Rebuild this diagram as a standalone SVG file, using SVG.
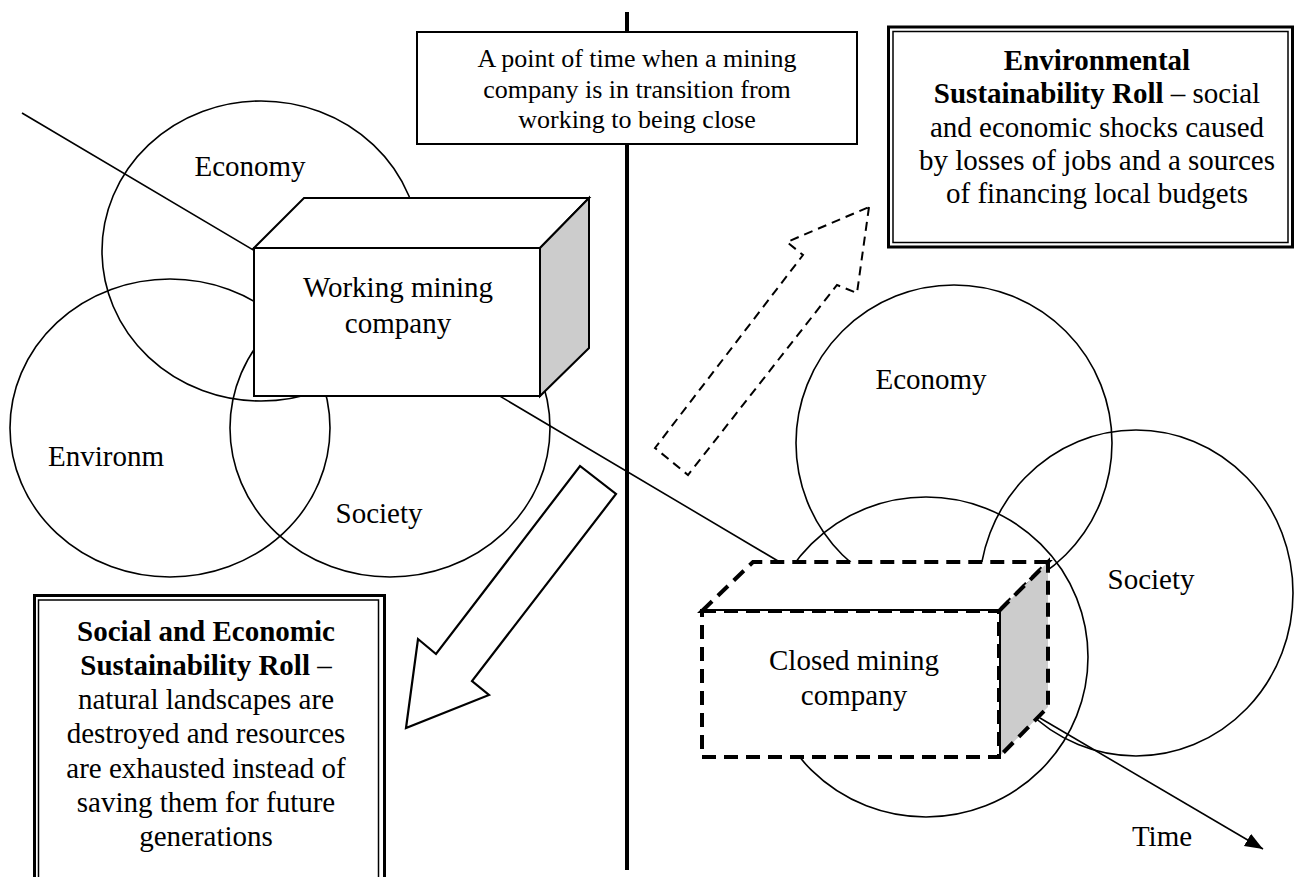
<svg xmlns="http://www.w3.org/2000/svg" width="1296" height="877" viewBox="0 0 1296 877">
  <defs>
    <style>
      .ring { fill: none; stroke: #000; stroke-width: 1.6; }
      .lbl { font-family: "Liberation Serif", "Times New Roman", serif; font-size: 29px; fill: #000; text-anchor: middle; }
      .small { font-size: 26px; }
      .b { font-weight: bold; }
      .face { fill: #fff; stroke: #000; stroke-width: 2; stroke-linejoin: miter; }
      .side { fill: #cccccc; stroke: #000; stroke-width: 2; }
      .dface { fill: #fff; stroke: #000; stroke-width: 4; stroke-dasharray: 14 8; }
      .dside { fill: #cccccc; stroke: #000; stroke-width: 4; stroke-dasharray: 14 8; }
      .thin { fill: none; stroke: #000; stroke-width: 1.6; }
    </style>
    <marker id="head" markerUnits="userSpaceOnUse" markerWidth="20" markerHeight="16" refX="18" refY="7" orient="auto">
      <path d="M0,0 L18,7 L0,14 Z" fill="#000"/>
    </marker>
  </defs>
  <rect width="1296" height="877" fill="#fff"/>

  <!-- three spheres around the working company -->
  <g id="left-spheres">
    <ellipse class="ring" cx="261" cy="251" rx="159" ry="150"/>
    <ellipse class="ring" cx="170" cy="428" rx="160" ry="149"/>
    <ellipse class="ring" cx="390" cy="428" rx="160" ry="149"/>
    <text class="lbl" x="250" y="176">Economy</text>
    <text class="lbl" x="106" y="466">Environm</text>
    <text class="lbl" x="379" y="523">Society</text>
  </g>

  <!-- three spheres around the closed company -->
  <g id="right-spheres">
    <circle class="ring" cx="954" cy="443" r="158"/>
    <ellipse class="ring" cx="1136" cy="593" rx="157" ry="163"/>
    <ellipse class="ring" cx="926" cy="657" rx="162" ry="160"/>
    <text class="lbl" x="931" y="389">Economy</text>
    <text class="lbl" x="1151" y="589">Society</text>
  </g>

  <g id="connectors">
    <!-- transition line between the two states -->
    <line class="thin" x1="22" y1="113" x2="778" y2="561"/>
    <!-- time boundary -->
    <line x1="627" y1="12" x2="627" y2="870" stroke="#000" stroke-width="4"/>
    <!-- time axis -->
    <line class="thin" x1="1040" y1="718" x2="1263" y2="849" marker-end="url(#head)"/>
    <!-- block arrow down to the social/economic roll -->
    <polygon points="406,728 418,639 436,654 580,466 616,494 472,681 489,695" fill="#fff" stroke="#000" stroke-width="2.2" stroke-linejoin="miter"/>
    <!-- dashed block arrow up to the environmental roll -->
    <polygon points="869,207 857,293 837,285 688,475 655,448 803,255 787,242" fill="none" stroke="#000" stroke-width="2" stroke-dasharray="9 6"/>
  </g>

  <g id="working-company">
    <polygon class="face" points="254,248 304,198 589,198 540,248"/>
    <polygon class="side" points="540,248 589,198 589,348 540,396"/>
    <rect class="face" x="254" y="248" width="286" height="148"/>
    <text class="lbl" x="398" y="297">Working mining</text>
    <text class="lbl" x="398" y="333">company</text>
  </g>

  <g id="closed-company">
    <polygon class="dface" points="702,611 753,562 1048,562 999,611"/>
    <polygon class="dside" points="999,611 1048,562 1048,707 999,757"/>
    <rect class="dface" x="702" y="611" width="297" height="146"/>
    <text class="lbl" x="854" y="670">Closed mining</text>
    <text class="lbl" x="854" y="705">company</text>
  </g>

  <g id="transition-note">
    <rect x="417" y="32" width="440" height="112" fill="#fff" stroke="#000" stroke-width="2"/>
    <text class="lbl small" x="637" y="67">A point of time when a mining</text>
    <text class="lbl small" x="637" y="97.5">company is in transition from</text>
    <text class="lbl small" x="637" y="128">working to being close</text>
  </g>

  <g id="environmental-roll">
    <rect x="888.5" y="27" width="404" height="220" fill="#fff" stroke="#000" stroke-width="3"/>
    <rect x="893" y="31.5" width="395" height="211" fill="none" stroke="#000" stroke-width="1.5"/>
    <text class="lbl" x="1097" y="70"><tspan class="b">Environmental</tspan></text>
    <text class="lbl" x="1097" y="103"><tspan class="b">Sustainability Roll</tspan> – social</text>
    <text class="lbl" x="1097" y="136.5">and economic shocks caused</text>
    <text class="lbl" x="1097" y="170">by losses of jobs and a sources</text>
    <text class="lbl" x="1097" y="203">of financing local budgets</text>
  </g>

  <g id="social-economic-roll">
    <rect x="34.5" y="595.5" width="350" height="290" fill="#fff" stroke="#000" stroke-width="3"/>
    <rect x="38.5" y="600" width="340" height="290" fill="none" stroke="#000" stroke-width="1.5"/>
    <text class="lbl" x="206" y="641"><tspan class="b">Social and Economic</tspan></text>
    <text class="lbl" x="206" y="675"><tspan class="b">Sustainability Roll</tspan> –</text>
    <text class="lbl" x="206" y="709">natural landscapes are</text>
    <text class="lbl" x="206" y="743">destroyed and resources</text>
    <text class="lbl" x="206" y="778">are exhausted instead of</text>
    <text class="lbl" x="206" y="812">saving them for future</text>
    <text class="lbl" x="206" y="846">generations</text>
  </g>

  <g id="time-label">
    <text class="lbl" x="1162" y="846">Time</text>
  </g>
</svg>
